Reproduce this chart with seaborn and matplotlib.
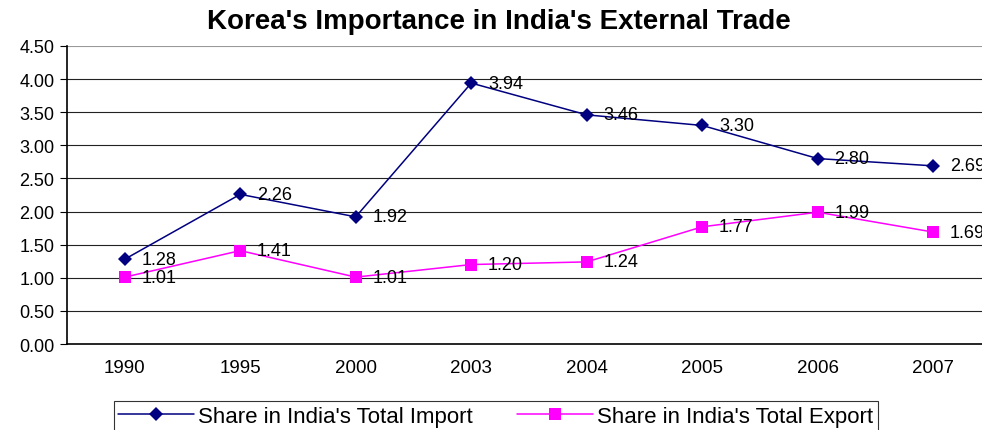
import matplotlib

matplotlib.use("Agg")
import matplotlib.pyplot as plt
import pandas as pd
import seaborn as sns

years = ["1990", "1995", "2000", "2003", "2004", "2005", "2006", "2007"]
import_share = [1.28, 2.26, 1.92, 3.94, 3.46, 3.30, 2.80, 2.69]
export_share = [1.01, 1.41, 1.01, 1.20, 1.24, 1.77, 1.99, 1.69]
series_names = ["Share in India's Total Import", "Share in India's Total Export"]
y_ticks = [0.0, 0.5, 1.0, 1.5, 2.0, 2.5, 3.0, 3.5, 4.0, 4.5]

sns.set_theme(style="white")
plt.rcParams["font.family"] = ["Liberation Sans", "DejaVu Sans"]
plt.rcParams.update({"text.color": "black", "xtick.color": "black",
                     "ytick.color": "black", "axes.labelcolor": "black"})

df = pd.DataFrame({
    "Year": years * 2,
    "Share": import_share + export_share,
    "Series": [series_names[0]] * len(years) + [series_names[1]] * len(years),
})

fig = plt.figure(figsize=(9.82, 4.31), dpi=100)
ax = fig.add_axes([0.0682, 0.1995, 0.941, 0.6915])

palette = {series_names[0]: "#000080", series_names[1]: "#FF00FF"}
markers = {series_names[0]: "D", series_names[1]: "s"}
sns.lineplot(data=df, x="Year", y="Share", hue="Series", style="Series",
             palette=palette, markers=markers, dashes=False, lw=1.1,
             markersize=8.5, markeredgewidth=0, ax=ax, sort=False)
for line in ax.lines:
    if line.get_marker() == "D":
        line.set_markersize(7.5)

ax.set_ylim(0, 4.5)
ax.set_xlim(-0.5, 7.5)
ax.set_yticks(y_ticks)
ax.set_yticklabels([f"{v:.2f}" for v in y_ticks], fontsize=13)
for v in y_ticks[1:]:
    ax.axhline(v, color="#222222" if v < 4.5 else "#999999", lw=0.8, zorder=0)

ax.set_xticks(range(len(years)))
ax.set_xticklabels(years, fontsize=13.5)
ax.set_xticks([i - 0.5 for i in range(len(years) + 1)], minor=True)
ax.tick_params(axis="x", which="major", length=0, pad=11)
ax.tick_params(axis="x", which="minor", length=5, width=0.8, direction="out", color="black")
ax.tick_params(axis="y", length=5, width=0.8, direction="out", color="black", left=True, pad=4)
ax.set_xlabel("")
ax.set_ylabel("")
for side in ["top", "right"]:
    ax.spines[side].set_visible(False)
for side in ["left", "bottom"]:
    ax.spines[side].set_color("black")
    ax.spines[side].set_linewidth(1.2)

# value labels to the right of each point
for vals in (import_share, export_share):
    for i, v in enumerate(vals):
        ax.annotate(f"{v:.2f}", (i, v), xytext=(12, 0), textcoords="offset points",
                    va="center", ha="left", fontsize=13, color="black")

fig.suptitle("Korea's Importance in India's External Trade", fontsize=20,
             fontweight="bold", x=0.508, y=0.98)

handles, labels = ax.get_legend_handles_labels()
ax.legend_.remove()
leg = fig.legend(handles, labels, loc="upper center", bbox_to_anchor=(0.505, 0.067),
                 ncol=2, fontsize=16, frameon=True, fancybox=False, edgecolor="black",
                 handlelength=3.4, columnspacing=2.0, borderpad=0.2, handletextpad=0.2,
                 borderaxespad=0)
leg.get_frame().set_linewidth(0.8)

fig.savefig("out.png", dpi=100)
